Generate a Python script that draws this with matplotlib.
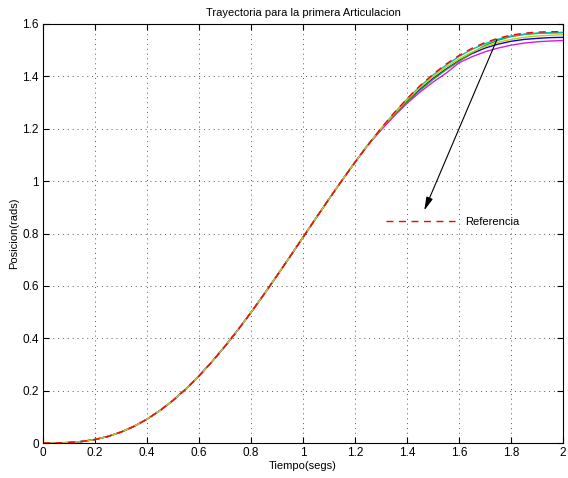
import numpy as np
import matplotlib
matplotlib.use('Agg')
import matplotlib.pyplot as plt

plt.rcParams['font.family'] = ['Liberation Sans', 'DejaVu Sans']

# ── Sample times (s) ──
t = np.round(np.arange(0, 2.0001, 0.05), 2)

# common part of every trajectory (t = 0 ... 1.25)
base = [0.0, 0.0002, 0.0018, 0.0059, 0.0134, 0.0252, 0.0418, 0.0636,
        0.0910, 0.1241, 0.1626, 0.2067, 0.2562, 0.3105, 0.3694, 0.4323,
        0.4986, 0.5678, 0.6391, 0.7119, 0.7854, 0.8589, 0.9317, 1.0030,
        1.0722, 1.1385]

# tails (t = 1.30 ... 2.00)
ref_tail = [1.2014, 1.2603, 1.3146, 1.3641, 1.4082, 1.4467, 1.4798, 1.5072,
            1.5290, 1.5456, 1.5574, 1.5649, 1.5690, 1.5706, 1.5708]
cyan_tail = [1.201, 1.259, 1.313, 1.362, 1.405, 1.443, 1.476, 1.503,
             1.525, 1.542, 1.554, 1.561, 1.565, 1.567, 1.568]
yellow_tail = [1.200, 1.257, 1.310, 1.357, 1.399, 1.436, 1.467, 1.493,
               1.514, 1.530, 1.541, 1.549, 1.554, 1.557, 1.559]
green_tail = [1.197, 1.252, 1.302, 1.347, 1.388, 1.425, 1.458, 1.490,
              1.518, 1.538, 1.552, 1.560, 1.564, 1.566, 1.567]
blue_tail = [1.198, 1.254, 1.305, 1.351, 1.392, 1.428, 1.460, 1.487,
             1.508, 1.523, 1.534, 1.541, 1.545, 1.548, 1.549]
magenta_tail = [1.195, 1.248, 1.297, 1.340, 1.378, 1.412, 1.452, 1.475,
                1.494, 1.508, 1.519, 1.527, 1.532, 1.535, 1.537]

series = [
    (base + blue_tail, (0, 0, 1)),
    (base + green_tail, (0.1, 0.65, 0.1)),
    (base + cyan_tail, (0, 0.75, 0.75)),
    (base + magenta_tail, (0.85, 0.1, 0.85)),
    (base + yellow_tail, (0.8, 0.8, 0)),
]
referencia = base + ref_tail

fig = plt.figure(figsize=(5.68, 4.78), dpi=100)
ax = fig.add_axes([0.0757, 0.0732, 0.9155, 0.8766])

for y, c in series:
    ax.plot(t, y, color=c, lw=1.0)
ref_line, = ax.plot(t, referencia, color='red', lw=1.0, ls='--',
                    dashes=(5, 4), label='Referencia')

ax.set_xlim(0, 2)
ax.set_ylim(0, 1.6)
ax.set_xticks(np.arange(0, 2.01, 0.2))
ax.set_xticklabels(['0', '0.2', '0.4', '0.6', '0.8', '1', '1.2', '1.4',
                    '1.6', '1.8', '2'])
ax.set_yticks(np.arange(0, 1.61, 0.2))
ax.set_yticklabels(['0', '0.2', '0.4', '0.6', '0.8', '1', '1.2', '1.4',
                    '1.6'])
ax.tick_params(direction='in', top=True, right=True, length=4.5,
               labelsize=8.5, pad=3)
ax.grid(True, color='0.35', ls=(0, (1, 4)), lw=0.7)
for s in ax.spines.values():
    s.set_linewidth(0.8)

ax.set_title('Trayectoria para la primera Articulacion', fontsize=8, pad=6)
ax.set_xlabel('Tiempo(segs)', fontsize=8, labelpad=1)
ax.set_ylabel('Posicion(rads)', fontsize=8, labelpad=2)

ax.annotate('', xy=(1.462, 0.878), xytext=(1.75, 1.55),
            arrowprops=dict(arrowstyle='-|>,head_length=0.8,head_width=0.2',
                            color='k', lw=0.8))

ax.legend(handles=[ref_line], loc='center left', frameon=False,
          bbox_to_anchor=(0.64, 0.527), handlelength=6.2, handletextpad=0.9,
          fontsize=8)

plt.savefig('out.png', dpi=100)
plt.close()
